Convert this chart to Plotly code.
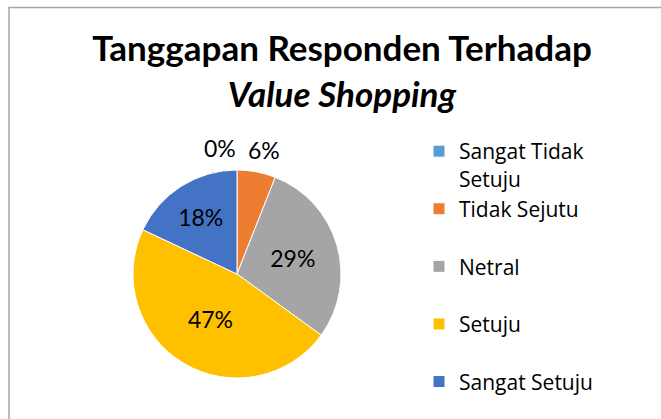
import math
import plotly.graph_objects as go

categories = ["Sangat Tidak Setuju", "Tidak Sejutu", "Netral", "Setuju", "Sangat Setuju"]
values = [0, 6, 29, 47, 18]
colors = ["#5B9BD5", "#ED7D31", "#A5A5A5", "#FFC000", "#4472C4"]

# legend names: wrap the long one, pad the middle ones to two lines for equal spacing
legend_names = (["Sangat Tidak<br>Setuju"]
                + [c + "<br>&nbsp;" for c in categories[1:-1]]
                + [categories[-1]])

W, H = 661, 419
FONT = "Lato"
LFONT = "Open Sans"

# pie geometry (pixels)
CX, CY, R = 237, 274, 104

total = sum(values)
outside = [0, 1]  # slices whose labels sit outside the pie
textpos = ["none" if i in outside else "inside" for i in range(len(values))]

fig = go.Figure(go.Pie(
    labels=legend_names,
    values=values,
    sort=False,
    direction="clockwise",
    rotation=0,
    marker=dict(colors=colors, line=dict(color="white", width=1)),
    texttemplate="%{percent:.0%}",
    textposition=textpos,
    insidetextorientation="horizontal",
    textfont=dict(family=FONT, size=23, color="#000000"),
    domain=dict(x=[(CX - R) / W, (CX + R) / W], y=[1 - (CY + R) / H, 1 - (CY - R) / H]),
    showlegend=True,
))

# outside labels for the small slices, positioned from the slice mid-angles
annotations = []
cum = 0
for i, v in enumerate(values):
    mid = (cum + v / 2) / total * 2 * math.pi
    cum += v
    if i not in outside:
        continue
    rr = R + 22
    px = CX + rr * math.sin(mid)
    py = CY - rr * math.cos(mid)
    annotations.append(dict(
        x=px / W, y=1 - py / H, xref="paper", yref="paper",
        text=f"{round(100 * v / total)}%", showarrow=False,
        xanchor="right" if i == 0 else "center", yanchor="middle",
        xshift=1 if i == 0 else 3,
        font=dict(family=FONT, size=23, color="#000000"),
    ))

fig.update_layout(
    width=W, height=H,
    margin=dict(l=0, r=0, t=0, b=0),
    paper_bgcolor="white",
    plot_bgcolor="white",
    font=dict(family=FONT, color="#000000"),
    title=dict(
        text="<b>Tanggapan Responden Terhadap<br><i>Value Shopping</i></b>",
        x=342 / W, xanchor="center",
        y=1 - 61 / H, yanchor="top",
        font=dict(family=FONT, size=35, color="#000000"),
    ),
    legend=dict(
        x=419 / W, xanchor="left",
        y=1 - 131 / H, yanchor="top",
        font=dict(family=LFONT, size=21, color="#000000"),
        valign="top",
        bgcolor="rgba(0,0,0,0)",
        itemclick=False,
    ),
    annotations=annotations,
    shapes=[dict(
        type="rect", xref="paper", yref="paper",
        x0=9 / W, x1=1.05, y0=-0.05, y1=1 - 7.5 / H,
        line=dict(color="#A6A6A6", width=1.5),
        fillcolor="rgba(0,0,0,0)",
    )],
)

fig.write_html("out.html", config={"displayModeBar": False},
               post_script="document.body.style.margin='0';")
